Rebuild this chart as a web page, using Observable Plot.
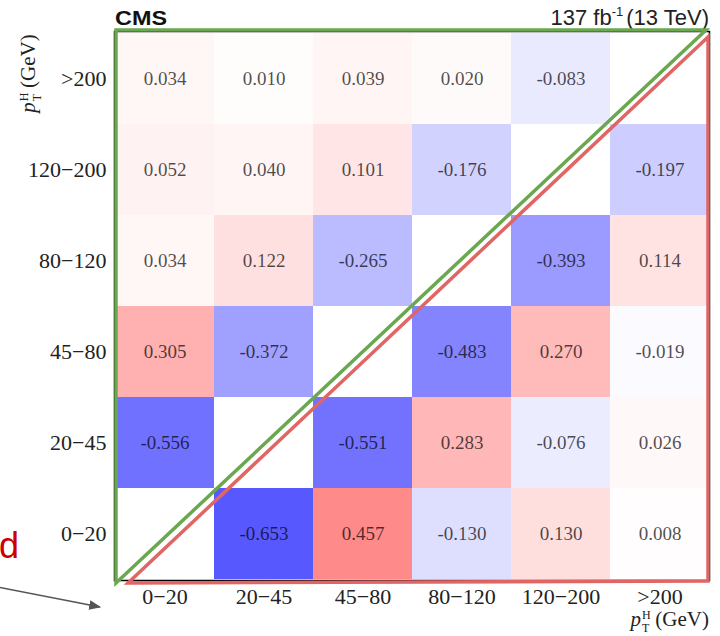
<!DOCTYPE html>
<html>
<head>
<meta charset="utf-8">
<script src="https://cdn.jsdelivr.net/npm/d3@7"></script>
<script src="https://cdn.jsdelivr.net/npm/@observablehq/plot@0.6"></script>
<style>
  body { margin: 0; background: #fff; }
  #chart svg { display: block; }
</style>
</head>
<body>
<div id="chart"></div>
<script>
// pT(H) bins used on both axes
const bins = ["0−20", "20−45", "45−80", "80−120", "120−200", ">200"];

// Correlation coefficients, one array per row (y bin), columns follow `bins`.
// null marks the diagonal, which is left blank.
const row0_20    = [null, -0.653, 0.457, -0.130, 0.130, 0.008];
const row20_45   = [-0.556, null, -0.551, 0.283, -0.076, 0.026];
const row45_80   = [0.305, -0.372, null, -0.483, 0.270, -0.019];
const row80_120  = [0.034, 0.122, -0.265, null, -0.393, 0.114];
const row120_200 = [0.052, 0.040, 0.101, -0.176, null, -0.197];
const row200     = [0.034, 0.010, 0.039, 0.020, -0.083, null];

const rows = [row0_20, row20_45, row45_80, row80_120, row120_200, row200];

const cells = [];
rows.forEach((row, i) => row.forEach((v, j) => {
  if (v !== null) cells.push({x: bins[j], y: bins[i], v});
}));

const W = 720, H = 636;
const mL = 114, mR = 11, mT = 31, mB = 56;
const serif = "'Liberation Serif', 'Times New Roman', serif";
const sans = "'Liberation Sans', Arial, sans-serif";

const plot = Plot.plot({
  width: W,
  height: H,
  marginLeft: mL,
  marginRight: mR,
  marginTop: mT,
  marginBottom: mB,
  style: {background: "white"},
  x: {domain: bins, padding: 0},
  y: {domain: bins.slice().reverse(), padding: 0},
  color: {
    type: "linear",
    domain: [-1, 0, 1],
    range: ["rgb(0,0,255)", "rgb(255,255,255)", "rgb(255,0,0)"],
    interpolate: "rgb"
  },
  marks: [
    Plot.cell(cells, {x: "x", y: "y", fill: "v", inset: 0}),
    Plot.text(cells, {
      x: "x", y: "y",
      text: d => d.v.toFixed(3),
      fontSize: 19,
      fontFamily: serif,
      fill: "black",
      fillOpacity: 0.7
    }),
    Plot.frame({stroke: "black", strokeWidth: 1.5}),
    Plot.axisX({tickSize: 0, tickPadding: 8, fontSize: 22, fontFamily: serif, fill: "#222", label: null}),
    Plot.axisY({tickSize: 0, tickPadding: 8, fontSize: 22, fontFamily: serif, fill: "#222", label: null})
  ]
});

document.getElementById("chart").appendChild(plot);

const svg = d3.select(plot);
const frameLeft = mL, frameRight = W - mR, frameTop = mT, frameBottom = H - mB;

// Header texts
svg.append("text")
  .attr("x", frameLeft + 1).attr("y", 25)
  .attr("text-anchor", "start")
  .attr("font-family", sans).attr("font-weight", "bold").attr("font-size", 21)
  .attr("textLength", 52).attr("lengthAdjust", "spacingAndGlyphs")
  .attr("fill", "#111")
  .text("CMS");

const lumi = svg.append("text")
  .attr("x", frameRight).attr("y", 25)
  .attr("text-anchor", "end")
  .attr("font-family", sans).attr("font-size", 22)
  .attr("fill", "#222");
lumi.append("tspan").text("137 fb");
lumi.append("tspan").attr("font-size", 13).attr("dy", -9).text("-1");
lumi.append("tspan").attr("dy", 9).attr("dx", 3).text("(13 TeV)");

// Axis titles: p_T^H (GeV)
function ptLabel(sel) {
  sel.append("tspan").attr("font-style", "italic").text("p");
  sel.append("tspan").attr("font-size", 12).attr("dx", 1).attr("dy", -7).text("H");
  sel.append("tspan").attr("font-size", 12).attr("dx", -8.7).attr("dy", 13).text("T");
  sel.append("tspan").attr("dx", 6).attr("dy", -6).text("(GeV)");
}

const xt = svg.append("text")
  .attr("x", frameRight).attr("y", 626)
  .attr("text-anchor", "end")
  .attr("font-family", serif).attr("font-size", 21)
  .attr("fill", "#222");
ptLabel(xt);

const yt = svg.append("text")
  .attr("transform", `translate(35,${(32 + 115) / 2}) rotate(-90)`)
  .attr("text-anchor", "middle")
  .attr("font-family", serif).attr("font-size", 21)
  .attr("fill", "#222");
ptLabel(yt);

// Triangular outlines over the upper-left and lower-right halves
const green = "#6aa84f", red = "#e06666";
svg.append("path")
  .attr("d", d3.line()([[frameLeft + 2, frameBottom + 3], [frameLeft + 2, frameTop - 1], [frameRight - 3, frameTop - 1]]) + "Z")
  .attr("fill", "none").attr("stroke", green).attr("stroke-width", 3.5)
  .attr("stroke-linejoin", "miter");
svg.append("path")
  .attr("d", d3.line()([[frameLeft + 14, frameBottom + 3], [frameRight - 1, frameBottom + 1], [frameRight - 1, frameTop + 6]]) + "Z")
  .attr("fill", "none").attr("stroke", red).attr("stroke-width", 3.5)
  .attr("stroke-linejoin", "miter");

// Callout text and arrow on the left edge
svg.append("text")
  .attr("x", -1).attr("y", 558)
  .attr("text-anchor", "start")
  .attr("font-family", sans).attr("font-size", 36)
  .attr("fill", "#cc0000")
  .text("d");

const defs = svg.append("defs");
defs.append("marker")
  .attr("id", "arrowhead")
  .attr("viewBox", "0 0 10 10")
  .attr("refX", 9).attr("refY", 5)
  .attr("markerWidth", 8).attr("markerHeight", 8)
  .attr("orient", "auto")
  .append("path").attr("d", "M0,1 L10,5 L0,9 Z").attr("fill", "#555");

svg.append("line")
  .attr("x1", -2).attr("y1", 587)
  .attr("x2", 100).attr("y2", 607)
  .attr("stroke", "#555").attr("stroke-width", 1.5)
  .attr("marker-end", "url(#arrowhead)");
</script>
</body>
</html>
